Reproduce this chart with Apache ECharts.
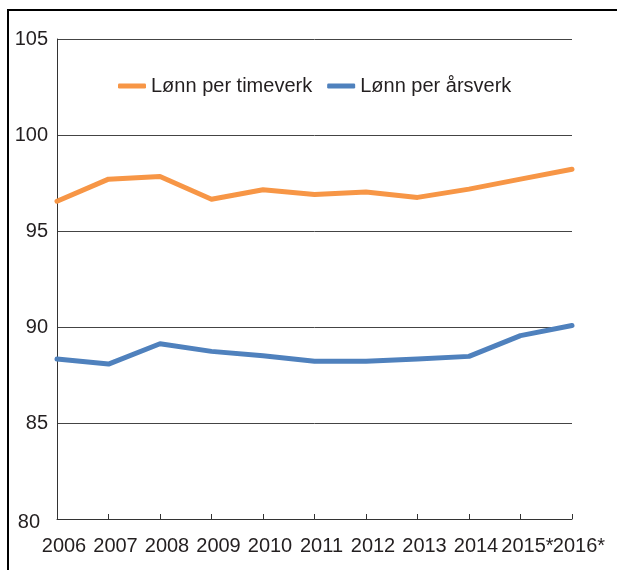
<!DOCTYPE html>
<html>
<head>
<meta charset="utf-8">
<script src="https://cdn.jsdelivr.net/npm/echarts@6/dist/echarts.min.js"></script>
<style>
  html, body { margin: 0; padding: 0; background: #fff; }
  .wrap { position: relative; width: 617px; height: 570px; overflow: hidden; }
  .frame {
    position: absolute; left: 7px; top: 9px; width: 700px; height: 700px;
    border-left: 2px solid #000; border-top: 2px solid #000;
  }
  #chart { position: absolute; left: 0; top: 0; width: 617px; height: 570px; }
</style>
</head>
<body>
<div class="wrap">
  <div class="frame"></div>
  <div id="chart"></div>
</div>
<script>
// data
var years = ["2006", "2007", "2008", "2009", "2010", "2011", "2012", "2013", "2014", "2015*", "2016*"];
var timeverk = [96.55, 97.7, 97.84, 96.65, 97.15, 96.9, 97.03, 96.75, 97.18, 97.7, 98.22];
var aarsverk = [88.33, 88.07, 89.13, 88.73, 88.5, 88.22, 88.22, 88.33, 88.47, 89.55, 90.08];
var yTicks = { min: 80, max: 105, step: 5 };

var chart = echarts.init(document.getElementById("chart"));
var font = "Liberation Sans, Arial, sans-serif";
var textColor = "#231f20";

chart.setOption({
  animation: false,
  textStyle: { fontFamily: font },
  grid: { left: 57, right: 45, top: 39, bottom: 51 },
  legend: {
    left: 113,
    top: 71,
    itemWidth: 28,
    itemHeight: 5,
    itemGap: 15,
    icon: "roundRect",
    textStyle: { fontSize: 20, color: textColor, fontFamily: font },
    data: ["Lønn per timeverk", "Lønn per årsverk"]
  },
  xAxis: {
    type: "category",
    data: years,
    boundaryGap: false,
    axisLine: { lineStyle: { color: "#333", width: 1 } },
    axisTick: { inside: true, length: 5, lineStyle: { color: "#333" } },
    axisLabel: {
      fontSize: 20,
      color: textColor,
      margin: 17,
      padding: [0, 0, 0, 14],
      interval: 0,
      fontFamily: font
    },
    splitLine: { show: false }
  },
  yAxis: {
    type: "value",
    min: yTicks.min,
    max: yTicks.max,
    interval: yTicks.step,
    axisLine: { show: true, lineStyle: { color: "#333", width: 1 } },
    axisTick: { show: false },
    axisLabel: {
      fontSize: 20,
      color: textColor,
      margin: 9,
      fontFamily: font,
      formatter: function (v) {
        return v === yTicks.min ? "{low|" + v + "}" : "" + v;
      },
      rich: {
        low: { fontSize: 20, color: textColor, fontFamily: font, padding: [6, 8, 0, 0] }
      }
    },
    splitLine: { lineStyle: { color: "#444", width: 1 } }
  },
  series: [
    {
      name: "Lønn per timeverk",
      type: "line",
      data: timeverk,
      symbol: "none",
      lineStyle: { color: "#f79646", width: 5, cap: "round", join: "round" },
      itemStyle: { color: "#f79646" }
    },
    {
      name: "Lønn per årsverk",
      type: "line",
      data: aarsverk,
      symbol: "none",
      lineStyle: { color: "#4f81bd", width: 5, cap: "round", join: "round" },
      itemStyle: { color: "#4f81bd" }
    }
  ]
});
</script>
</body>
</html>
